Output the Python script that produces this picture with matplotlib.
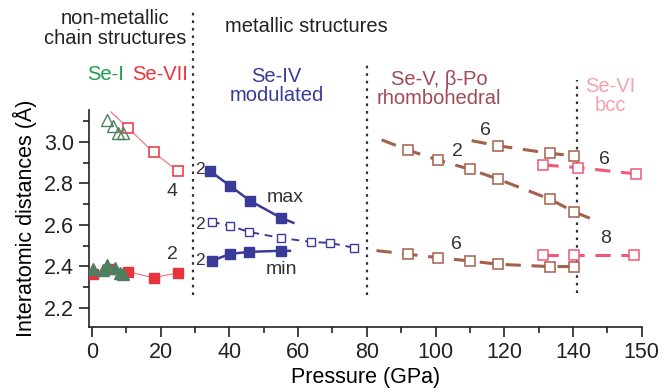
import matplotlib
matplotlib.use("Agg")
import matplotlib.pyplot as plt

plt.rcParams['font.family'] = ['Liberation Sans', 'DejaVu Sans']

# ---------------- data ----------------
# Se-I (green triangles)
se1_open_x = [4.5, 6.0, 7.5, 9.0]
se1_open_y = [3.105, 3.075, 3.045, 3.043]
se1_fill_x = [0.3, 3.2, 4.4, 6.7, 8.1, 9.0]
se1_fill_y = [2.386, 2.383, 2.407, 2.390, 2.367, 2.364]

# Se-VII (red squares)
se7_open_x = [10.5, 17.9, 25.0]
se7_open_y = [3.067, 2.950, 2.860]
se7_open_line_x = [5.5, 10.5, 17.9, 25.0]
se7_open_line_y = [3.145, 3.067, 2.950, 2.860]
se7_fill_x = [0.3, 5.2, 10.5, 17.9, 25.0]
se7_fill_y = [2.364, 2.385, 2.374, 2.345, 2.369]

# Se-IV (blue)
se4_max_x = [34.3, 40.2, 46.0, 55.0]
se4_max_y = [2.860, 2.788, 2.716, 2.634]
se4_max_line_x = [34.3, 40.2, 46.0, 55.0, 58.6]
se4_max_line_y = [2.860, 2.788, 2.716, 2.634, 2.610]
se4_mid_x = [34.9, 40.2, 45.7, 55.0, 63.6, 69.3, 76.2]
se4_mid_y = [2.615, 2.595, 2.566, 2.537, 2.518, 2.513, 2.490]
se4_min_x = [34.9, 40.2, 45.7, 55.0]
se4_min_y = [2.427, 2.460, 2.470, 2.475]
se4_min_line_x = [34.9, 40.2, 45.7, 55.0, 57.6]
se4_min_line_y = [2.427, 2.460, 2.470, 2.475, 2.475]

# Se-V (brown)
se5_up_x = [118.3, 133.3, 140.3]
se5_up_y = [2.981, 2.945, 2.933]
se5_up_line_x = [110.5, 118.3, 133.3, 140.3]
se5_up_line_y = [3.006, 2.981, 2.945, 2.933]
se5_mid_x = [91.9, 100.6, 110.0, 118.3, 133.3, 140.3]
se5_mid_y = [2.961, 2.913, 2.868, 2.820, 2.724, 2.663]
se5_mid_line_x = [84.3, 91.9, 100.6, 110.0, 118.3, 133.3, 140.3, 144.9]
se5_mid_line_y = [3.010, 2.961, 2.913, 2.868, 2.820, 2.724, 2.663, 2.632]
se5_low_x = [91.9, 100.6, 110.0, 118.3, 133.3, 140.3]
se5_low_y = [2.459, 2.442, 2.426, 2.410, 2.399, 2.399]
se5_low_line_x = [82.8, 91.9, 100.6, 110.0, 118.3, 133.3, 140.3, 143.0]
se5_low_line_y = [2.476, 2.459, 2.442, 2.426, 2.410, 2.399, 2.399, 2.396]

# Se-VI (pink)
se6_up_x = [131.4, 141.5, 158.2]
se6_up_y = [2.889, 2.876, 2.846]
se6_low_x = [131.2, 140.3, 157.8]
se6_low_y = [2.455, 2.455, 2.455]

# phase boundaries (pressure, bottom, top)
bound_x = [29.3, 80.1, 141.2]
bound_top = [3.636, 3.371, 3.300]
bound_bottom = [2.263, 2.263, 2.270]

x_tick_pos = [0, 20, 40, 60, 80, 100, 120, 140, 160]
x_tick_labels = ['0', '20', '40', '60', '80', '100', '120', '140', '150']
y_ticks = [2.2, 2.4, 2.6, 2.8, 3.0]

# ---------------- colours ----------------
GREEN_T = '#1e9e4c'
GREEN_M = '#4d7f60'
RED = '#e8323c'
BLUE = '#3a3a98'
BROWN = '#a3614c'
BROWN_T = '#a14a55'
PINK = '#ee5a78'
PINK_T = '#f4a3ac'
DARK = '#333333'

fig = plt.figure(figsize=(6.66, 3.92), dpi=100)
ax = fig.add_axes([0.133, 0.166, 0.8305, 0.554])
ax.set_xlim(-1, 160)
ax.set_ylim(2.108, 3.155)

for s in ['top', 'right']:
    ax.spines[s].set_visible(False)
for s in ['left', 'bottom']:
    ax.spines[s].set_linewidth(1.2)
    ax.spines[s].set_color('#222222')

ax.set_xticks(x_tick_pos)
ax.set_xticklabels(x_tick_labels)
ax.set_xticks([10, 30, 50, 70, 90, 110, 130, 150], minor=True)
ax.set_yticks(y_ticks)
ax.set_yticklabels([f'{v:.1f}' for v in y_ticks])
ax.set_yticks([2.3, 2.5, 2.7, 2.9, 3.1], minor=True)
ax.tick_params(which='major', direction='out', length=7, width=1.2, labelsize=15.5, colors='#222222')
ax.tick_params(which='minor', direction='out', length=4, width=1.2, colors='#222222')
ax.tick_params(axis='x', pad=4)

ax.set_xlabel('Pressure (GPa)', fontsize=15.5, labelpad=3)
ax.set_ylabel('Interatomic distances (Å)', fontsize=15.5, labelpad=5)

# phase boundaries
for bx, bt, bb in zip(bound_x, bound_top, bound_bottom):
    ax.plot([bx, bx], [bb, bt], ls=(0, (1.2, 2.2)), color='#333333', lw=1.6,
            clip_on=False, zorder=1)

# Se-VII
ax.plot(se7_open_line_x, se7_open_line_y, color=RED, lw=0.8, alpha=0.7, zorder=2)
ax.plot(se7_open_x, se7_open_y, ls='none', marker='s', ms=7, mfc='white',
        mec=RED, mew=1.1, zorder=3)
ax.plot(se7_fill_x, se7_fill_y, color=RED, lw=0.8, alpha=0.7, zorder=2)
ax.plot(se7_fill_x, se7_fill_y, ls='none', marker='s', ms=7, color=RED, zorder=3)

# Se-I
ax.plot(se1_open_x, se1_open_y, ls='none', marker='^', ms=8, mfc='none',
        mec=GREEN_M, mew=1.0, zorder=4)
ax.plot(se1_fill_x, se1_fill_y, ls='none', marker='^', ms=9, color=GREEN_M, zorder=4)

# Se-IV
ax.plot(se4_max_line_x, se4_max_line_y, color=BLUE, lw=1.8, zorder=2)
ax.plot(se4_max_x, se4_max_y, ls='none', marker='s', ms=7, color=BLUE, zorder=3)
ax.plot(se4_mid_x, se4_mid_y, color=BLUE, lw=1.4, ls=(0, (4, 3)), marker='s',
        ms=6, mfc='white', mec=BLUE, mew=1.0, zorder=3)
ax.plot(se4_min_line_x, se4_min_line_y, color=BLUE, lw=1.8, zorder=2)
ax.plot(se4_min_x, se4_min_y, ls='none', marker='s', ms=7, color=BLUE, zorder=3)

# Se-V
dash = (0, (5, 3.5))
for lx, ly in [(se5_up_line_x, se5_up_line_y), (se5_mid_line_x, se5_mid_line_y),
               (se5_low_line_x, se5_low_line_y)]:
    ax.plot(lx, ly, color=BROWN, lw=2.2, ls=dash, zorder=2)
for mx, my in [(se5_up_x, se5_up_y), (se5_mid_x, se5_mid_y), (se5_low_x, se5_low_y)]:
    ax.plot(mx, my, ls='none', marker='s', ms=7, mfc='white', mec=BROWN, mew=1.1, zorder=3)

# Se-VI
for mx, my in [(se6_up_x, se6_up_y), (se6_low_x, se6_low_y)]:
    ax.plot(mx, my, color=PINK, lw=2.2, ls=dash, zorder=2)
    ax.plot(mx, my, ls='none', marker='s', ms=7, mfc='white', mec=PINK, mew=1.1, zorder=3)

# ---------------- text ----------------
kw = dict(ha='center', va='center', clip_on=False)
ax.text(6.7, 3.547, 'non-metallic\nchain structures', fontsize=14.5, color='#222222',
        linespacing=1.05, **kw)
ax.text(38.7, 3.554, 'metallic structures', fontsize=14.5, color='#222222',
        ha='left', va='center', clip_on=False)
ax.text(3.9, 3.323, 'Se-I', fontsize=14.5, color=GREEN_T, **kw)
ax.text(19.8, 3.323, 'Se-VII', fontsize=14.5, color=RED, **kw)
ax.text(53.7, 3.27, 'Se-IV\nmodulated', fontsize=14.5, color=BLUE, linespacing=1.0, **kw)
ax.text(101.1, 3.255, 'Se-V, β-Po\nrhombohedral', fontsize=14.5, color=BROWN_T,
        linespacing=1.0, **kw)
ax.text(150.8, 3.219, 'Se-VI\nbcc', fontsize=14.5, color=PINK_T, linespacing=1.0, **kw)

nk = dict(ha='center', va='center', color=DARK, fontsize=14)
ax.text(23.3, 2.76, '4', **nk)
ax.text(23.3, 2.455, '2', **nk)
ax.text(31.5, 2.865, '2', ha='center', va='center', color=DARK, fontsize=12.5)
ax.text(31.5, 2.600, '2', ha='center', va='center', color=DARK, fontsize=12.5)
ax.text(31.5, 2.427, '2', ha='center', va='center', color=DARK, fontsize=12.5)
ax.text(56.2, 2.73, 'max', **nk)
ax.text(55.0, 2.383, 'min', **nk)
ax.text(114.4, 3.053, '6', **nk)
ax.text(106.5, 2.952, '2', **nk)
ax.text(106.2, 2.504, '6', **nk)
ax.text(149.3, 2.913, '6', **nk)
ax.text(149.6, 2.533, '8', **nk)

fig.savefig('out.png', dpi=100)
